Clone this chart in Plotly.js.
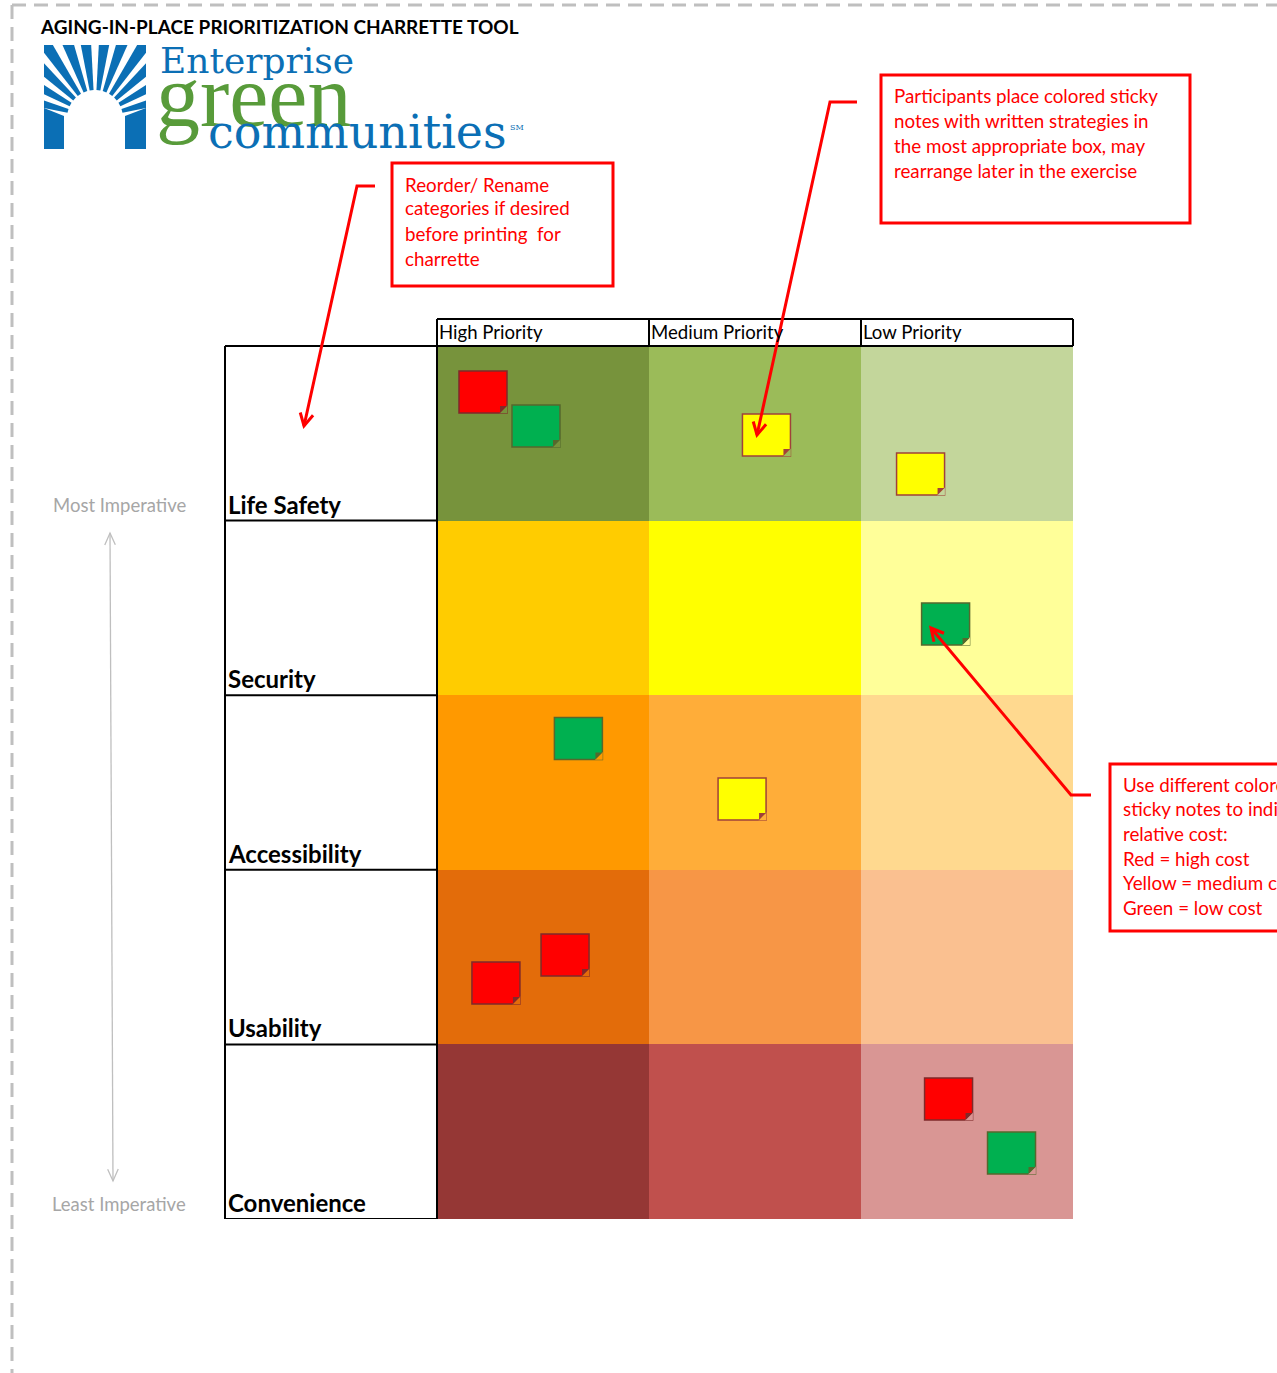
<!DOCTYPE html>
<html>
<head>
<meta charset="utf-8">
<script src="https://cdn.plot.ly/plotly-3.0.1.min.js"></script>
<style>html,body{margin:0;padding:0;background:#fff;}#chart{width:1277px;height:1373px;}</style>
</head>
<body>
<div id="chart"></div>
<script>
// ---------------- data ----------------
const priorities = ['High Priority', 'Medium Priority', 'Low Priority'];
const categories = ['Life Safety', 'Security', 'Accessibility', 'Usability', 'Convenience'];
// shade level of each cell (row by row, high -> low priority)
const cellLevel = [
  [0, 1, 2],
  [3, 4, 5],
  [6, 7, 8],
  [9, 10, 11],
  [12, 13, 14]
];
// sticky notes: column / row position (in cell units) and cost
const noteCol  = [-0.283, -0.033, 1.054, 1.781, 1.899, 0.167, 0.939, -0.222, 0.104, 1.913, 2.210];
const noteRow  = [-0.237, -0.042, 0.010, 0.233, 1.092, 1.748, 2.094, 3.148, 2.988, 3.813, 4.122];
const noteCost = ['high', 'low', 'medium', 'medium', 'low', 'low', 'medium', 'high', 'high', 'high', 'low'];

const titleText = 'AGING-IN-PLACE PRIORITIZATION CHARRETTE TOOL';
const note1Lines = ['Reorder/ Rename', 'categories if desired', 'before printing\u00a0 for', 'charrette'];
const note2Lines = ['Participants place colored sticky', 'notes with written strategies in', 'the most appropriate box, may', 'rearrange later in the exercise'];
const note3Lines = ['Use different colored', 'sticky notes to indicate', 'relative cost:', 'Red = high cost', 'Yellow = medium cost', 'Green = low cost'];
const axisTop = 'Most Imperative';
const axisBottom = 'Least Imperative';

// ---------------- styles ----------------
const palette = ['#77933C', '#9BBB59', '#C3D69B',
                 '#FFCC00', '#FFFF00', '#FFFF99',
                 '#FF9900', '#FFAD39', '#FFD98F',
                 '#E36C0A', '#F79646', '#FAC090',
                 '#953735', '#C0504D', '#D99694'];
const noteFill = {high: '#FF0000', medium: '#FFFF00', low: '#00B050'};
const noteLine = {high: '#7F2A2A', medium: '#A0413A', low: '#56682C'};
const RED = '#FF0000';
const W = 1277, H = 1373;
const X = v => v / W, Y = v => 1 - v / H;
const gridL = 437, gridR = 1073, gridT = 346, gridB = 1219;
const pxX = 3 / (gridR - gridL), pxY = 5 / (gridB - gridT); // data units per pixel
const noteW = 48 * pxX, noteH = 42 * pxY;

// ---------------- traces ----------------
const colorscale = palette.map((c, i) => [i / (palette.length - 1), c]);
const traces = [];
traces.push({
  type: 'heatmap', x: [0, 1, 2], y: [0, 1, 2, 3, 4], z: cellLevel,
  zmin: 0, zmax: palette.length - 1, colorscale: colorscale, showscale: false, hoverinfo: 'skip'
});
traces.push({
  type: 'bar', x: noteCol, y: noteCol.map(() => noteH), base: noteRow.map(r => r - noteH / 2),
  width: noteCol.map(() => noteW),
  marker: {color: noteCost.map(c => noteFill[c]), line: {color: noteCost.map(c => noteLine[c]), width: 1.5}},
  hoverinfo: 'skip'
});
// folded corner: cut (cell colour) + fold (dark)
const f = 7, r = f / 1.8, r1 = r * 0.6;
const cellColorAt = i => palette[Math.round(noteRow[i]) * 3 + Math.round(noteCol[i])];
traces.push({
  type: 'scatter', mode: 'markers',
  x: noteCol.map(c => c + noteW / 2 - r1 * pxX),
  y: noteRow.map(rw => rw + noteH / 2 - r1 * pxY),
  marker: {symbol: 'triangle-se', size: 2 * r + 1, color: noteCol.map((c, i) => cellColorAt(i)), line: {width: 0}},
  hoverinfo: 'skip'
});
traces.push({
  type: 'scatter', mode: 'markers',
  x: noteCol.map(c => c + noteW / 2 - (f - r1) * pxX),
  y: noteRow.map(rw => rw + noteH / 2 - (f - r1) * pxY),
  marker: {symbol: 'triangle-nw', size: 2 * r, color: noteCost.map(c => noteLine[c]), line: {width: 0}},
  hoverinfo: 'skip'
});

// ---------------- shapes ----------------
const shapes = [];
const P = (x, y) => X(x).toFixed(5) + ',' + Y(y).toFixed(5);
function line(x0, y0, x1, y1, color, width, dash) {
  shapes.push({type: 'line', xref: 'paper', yref: 'paper', x0: X(x0), y0: Y(y0), x1: X(x1), y1: Y(y1),
    line: {color: color, width: width, dash: dash || 'solid'}});
}
function rect(x0, y0, x1, y1, color, width) {
  shapes.push({type: 'rect', xref: 'paper', yref: 'paper', x0: X(x0), y0: Y(y0), x1: X(x1), y1: Y(y1),
    line: {color: color, width: width}, fillcolor: 'rgba(0,0,0,0)'});
}
function poly(pts, color) {
  shapes.push({type: 'path', xref: 'paper', yref: 'paper',
    path: 'M' + pts.map(p => P(p[0], p[1])).join('L') + 'Z', fillcolor: color, line: {width: 0}});
}
function head(tx, ty, fx, fy, len, ang, color, width) {
  const a = Math.atan2(fy - ty, fx - tx);
  const a1 = a + ang * Math.PI / 180, a2 = a - ang * Math.PI / 180;
  shapes.push({type: 'path', xref: 'paper', yref: 'paper',
    path: 'M' + P(tx + len * Math.cos(a1), ty + len * Math.sin(a1)) + 'L' + P(tx, ty) + 'L' + P(tx + len * Math.cos(a2), ty + len * Math.sin(a2)),
    line: {color: color, width: width}});
}
function elbowArrow(pts, color) {
  shapes.push({type: 'path', xref: 'paper', yref: 'paper',
    path: 'M' + pts.map(p => P(p[0], p[1])).join('L'), line: {color: color, width: 3}});
  const n = pts.length;
  head(pts[n - 1][0], pts[n - 1][1], pts[n - 2][0], pts[n - 2][1], 14, 28, color, 3);
}

// dashed page border
line(12, 5, 1290, 5, '#BFBFBF', 3, '14px,8px');
line(12, 5, 12, 1380, '#BFBFBF', 3, '14px,8px');

// table lines
line(gridL, 319, gridR, 319, '#000', 2);
line(225, gridT, gridR, gridT, '#000', 2);
line(gridR, 319, gridR, gridT, '#000', 2);
line(gridL, 319, gridL, gridB, '#000', 2);
line(225, gridT, 225, gridB, '#000', 2);
[0.5, 1.5].forEach(v => shapes.push({type: 'line', xref: 'x', yref: 'paper', x0: v, x1: v, y0: Y(319), y1: Y(gridT), line: {color: '#000', width: 2}}));
[0.5, 1.5, 2.5, 3.5, 4.5].forEach(v => shapes.push({type: 'line', xref: 'paper', yref: 'y', x0: X(225), x1: X(gridL), y0: v, y1: v, line: {color: '#000', width: 2}}));

// red note boxes
rect(392, 163, 613, 286, RED, 3);
rect(881, 75, 1190, 223, RED, 3);
rect(1110, 764, 1320, 931, RED, 3);

// red arrows
elbowArrow([[375, 186], [357, 186], [304, 426]], RED);
elbowArrow([[857, 102], [830, 102], [757, 435]], RED);
elbowArrow([[1091, 795], [1071, 795], [931, 628]], RED);

// gray imperative arrow
line(110, 533, 113, 1181, '#BFBFBF', 1.3);
head(110, 533, 113, 1181, 13, 24, '#BFBFBF', 1.3);
head(113, 1181, 110, 533, 13, 24, '#BFBFBF', 1.3);

// logo icon
const BLUE = '#0B6FB5', GREEN = '#589B3A';
(function () {
  const cx = 95, cy = 118, rin = 28, d = 4.0;
  const angles = [165, 151, 137, 124, 110, 97, 83, 70, 56, 43, 29, 15];
  function outer(a) {
    const dx = Math.cos(a * Math.PI / 180), dy = -Math.sin(a * Math.PI / 180);
    const tx = dx < 0 ? (44 - cx) / dx : (dx > 0 ? (146 - cx) / dx : Infinity);
    const ty = (45 - cy) / dy;
    const t = Math.min(tx, ty);
    return {p: [cx + t * dx, cy + t * dy], edge: tx < ty ? (dx < 0 ? 'L' : 'R') : 'T'};
  }
  function inner(a) {
    return [cx + rin * Math.cos(a * Math.PI / 180), cy - rin * Math.sin(a * Math.PI / 180)];
  }
  angles.forEach(t => {
    const a1 = t - d, a2 = t + d;
    const o1 = outer(a1), o2 = outer(a2);
    const pts = [inner(a1), o1.p];
    if (o1.edge !== o2.edge) pts.push([o1.edge === 'R' || o2.edge === 'R' ? 146 : 44, 45]);
    pts.push(o2.p, inner(a2));
    poly(pts, BLUE);
  });
  poly([[44, 108], [64, 116], [64, 149], [44, 149]], BLUE);
  poly([[125, 116], [146, 108], [146, 149], [125, 149]], BLUE);
})();

// ---------------- annotations ----------------
const ann = [];
function txt(text, x, y, size, color, opts) {
  ann.push(Object.assign({text: text, xref: 'paper', yref: 'paper', x: X(x), y: Y(y), xanchor: 'left', yanchor: 'middle',
    showarrow: false, font: {size: size, color: color, family: 'Lato'}}, opts || {}));
}
txt('<b>' + titleText + '</b>', 38, 26, 19, '#000');
txt('Enterprise', 158, 61, 36, BLUE, {font: {size: 36, color: BLUE, family: 'DejaVu Serif'}});
txt('green', 154, 97, 88, GREEN, {font: {size: 88, color: GREEN, family: 'Liberation Serif'}});
txt('communities', 206, 132, 46, BLUE, {font: {size: 46, color: BLUE, family: 'DejaVu Serif'}});
txt('SM', 508, 128, 8, BLUE, {font: {size: 8, color: BLUE, family: 'DejaVu Serif'}});

note1Lines.forEach((t, i) => txt(t, 403, [184, 208, 233, 258][i], 18.8, RED));
note2Lines.forEach((t, i) => txt(t, 892, [96, 120, 145, 170][i], 18.8, RED));
note3Lines.forEach((t, i) => txt(t, 1121, [784, 808, 833, 858, 883, 907][i], 18.8, RED));

txt(axisTop, 119, 505, 18.5, '#A6A6A6', {xanchor: 'center'});
txt(axisBottom, 119, 1204, 18.5, '#A6A6A6', {xanchor: 'center'});

priorities.forEach((p, i) => ann.push({text: p, xref: 'x', yref: 'paper', x: i - 0.5, y: Y(332), xanchor: 'left', yanchor: 'middle',
  showarrow: false, font: {size: 18.6, color: '#000', family: 'Lato'}}));
categories.forEach((c, i) => ann.push({text: '<b>' + c + '</b>', xref: 'paper', yref: 'y', x: X(226), y: i + 0.5, xanchor: 'left', yanchor: 'bottom',
  showarrow: false, font: {size: 24, color: '#000', family: 'Lato'}}));

const layout = {
  width: W, height: H, margin: {l: 0, r: 0, t: 0, b: 0},
  paper_bgcolor: '#FFFFFF', plot_bgcolor: 'rgba(0,0,0,0)', showlegend: false, barmode: 'overlay',
  font: {family: 'Lato'},
  xaxis: {domain: [X(gridL), X(gridR)], range: [-0.5, 2.5], visible: false, fixedrange: true},
  yaxis: {domain: [Y(gridB), Y(gridT)], range: [4.5, -0.5], visible: false, fixedrange: true},
  shapes: shapes, annotations: ann
};
Plotly.newPlot('chart', traces, layout, {displayModeBar: false, staticPlot: true});
</script>
</body>
</html>
